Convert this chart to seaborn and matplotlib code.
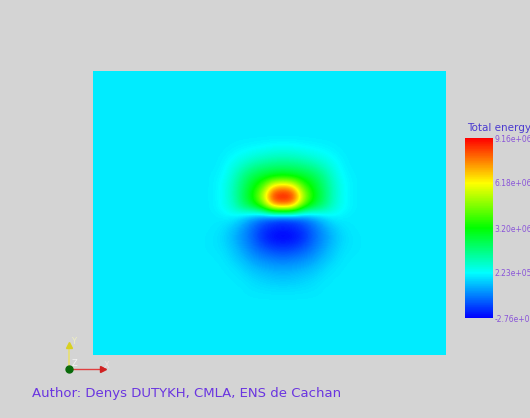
import numpy as np
import matplotlib
matplotlib.use("Agg")
import matplotlib.pyplot as plt
import matplotlib.colors as mcolors
import seaborn as sns

# ---------------- data (values in units of 1e6) ----------------
colorbar_title = "Total energy"
tick_values = [-2.76, 0.223, 3.20, 6.18, 9.16]
vmin, vmax = -2.76, 9.16
author = "Author: Denys DUTYKH, CMLA, ENS de Cachan"

# energy field sampled on a 17x17 patch around the source (rows top -> bottom)
row_137 = [0, 0, 0, 0, 0, 0, 0, 0, 0, 0, 0, 0, 0, 0, 0, 0, 0]
row_147 = [0, 0, 0, 0.05, 0.1, 0.15, 0.2, 0.28, 0.3, 0.28, 0.2, 0.15, 0.1, 0.05, 0, 0, 0]
row_157 = [0, 0, 0.05, 0.2, 0.4, 0.6, 0.8, 0.95, 1.0, 0.95, 0.8, 0.6, 0.4, 0.2, 0.05, 0, 0]
row_167 = [0, 0, 0.1, 0.5, 1.0, 1.5, 1.8, 1.95, 2.0, 1.95, 1.8, 1.5, 1.0, 0.5, 0.1, 0, 0]
row_177 = [0, 0.05, 0.2, 0.8, 1.7, 2.4, 2.8, 3.1, 3.3, 3.1, 2.8, 2.4, 1.7, 0.8, 0.2, 0.05, 0]
row_187 = [0, 0.05, 0.3, 1.0, 2.0, 3.0, 4.2, 6.9, 7.5, 6.9, 4.2, 3.0, 2.0, 1.0, 0.3, 0.05, 0]
row_197 = [0, 0.05, 0.3, 1.0, 2.2, 3.3, 5.6, 9.0, 9.16, 9.0, 5.6, 3.3, 2.2, 1.0, 0.3, 0.05, 0]
row_207 = [0, 0.05, 0.3, 0.8, 1.8, 2.5, 3.7, 6.6, 7.1, 6.6, 3.7, 2.5, 1.8, 0.8, 0.3, 0.05, 0]
row_217 = [0, 0, 0.05, 0.1, -0.3, -0.8, -1.3, -1.6, -1.8, -1.6, -1.3, -0.8, -0.3, 0.1, 0.05, 0, 0]
row_227 = [0, 0, -0.1, -0.4, -0.9, -1.5, -2.0, -2.3, -2.4, -2.3, -2.0, -1.5, -0.9, -0.4, -0.1, 0, 0]
row_237 = [0, -0.05, -0.2, -0.6, -1.1, -1.6, -2.3, -2.65, -2.76, -2.65, -2.3, -1.6, -1.1, -0.6, -0.2, -0.05, 0]
row_247 = [0, -0.05, -0.15, -0.45, -0.9, -1.4, -1.8, -2.1, -2.2, -2.1, -1.8, -1.4, -0.9, -0.45, -0.15, -0.05, 0]
row_257 = [0, 0, -0.05, -0.3, -0.6, -1.0, -1.25, -1.4, -1.5, -1.4, -1.25, -1.0, -0.6, -0.3, -0.05, 0, 0]
row_267 = [0, 0, 0, -0.1, -0.3, -0.55, -0.75, -0.85, -0.9, -0.85, -0.75, -0.55, -0.3, -0.1, 0, 0, 0]
row_277 = [0, 0, 0, 0, -0.1, -0.25, -0.35, -0.45, -0.5, -0.45, -0.35, -0.25, -0.1, 0, 0, 0, 0]
row_287 = [0, 0, 0, 0, 0, -0.1, -0.15, -0.2, -0.2, -0.2, -0.15, -0.1, 0, 0, 0, 0, 0]
row_297 = [0, 0, 0, 0, 0, 0, 0, 0, 0, 0, 0, 0, 0, 0, 0, 0, 0]
background_value = 0.0

field = np.array([row_137, row_147, row_157, row_167, row_177, row_187, row_197,
                  row_207, row_217, row_227, row_237, row_247, row_257, row_267,
                  row_277, row_287, row_297], dtype=float)

# ---------------- style ----------------
sns.set_theme(style="white")
plt.rcParams["font.family"] = ["DejaVu Sans"]
bg = "#d4d4d4"

# VTK-like rainbow lookup table (blue -> red)
hues = np.linspace(2.0 / 3.0, 0.0, 256)
hsv = np.stack([hues, np.ones_like(hues), np.ones_like(hues)], axis=1)
cmap = mcolors.ListedColormap(mcolors.hsv_to_rgb(hsv), name="vtk_rainbow")
norm = mcolors.Normalize(vmin=vmin, vmax=vmax)

W, H = 530, 418
fig = plt.figure(figsize=(W / 100, H / 100), dpi=100, facecolor=bg)

# main field axes (pixel box 93..446 x 71..355)
ax = fig.add_axes([93 / W, 1 - 355 / H, 353 / W, 284 / H])
ax.set_facecolor(cmap(norm(background_value)))
ax.set_xlim(0, 353)
ax.set_ylim(284, 0)
ax.imshow(field, cmap=cmap, norm=norm, interpolation="bicubic",
          interpolation_stage="data", extent=(105, 275, 231, 61),
          origin="upper", aspect="auto")
ax.set_xticks([])
ax.set_yticks([])
for s in ax.spines.values():
    s.set_visible(False)

# colorbar (pixel box 465..493 x 138..318)
cax = fig.add_axes([465 / W, 1 - 318 / H, 28 / W, 180 / H])
sm = matplotlib.cm.ScalarMappable(norm=norm, cmap=cmap)
cb = fig.colorbar(sm, cax=cax, ticks=tick_values)
cb.outline.set_visible(False)
cb.ax.set_yticklabels([f"{v * 1e6:.2e}" for v in tick_values])
cb.ax.tick_params(length=0, pad=1, labelsize=5.5, labelcolor="#8a55d8")
fig.text(467 / W, 1 - 128 / H, colorbar_title, fontsize=7.5, color="#4b3ad0",
         ha="left", va="center")

# author caption
fig.text(32 / W, 1 - 394 / H, author, fontsize=9.5, color="#6a35e0",
         ha="left", va="center")

# orientation triad (decoration)
ov = fig.add_axes([0, 0, 1, 1], facecolor="none")
ov.set_xlim(0, W)
ov.set_ylim(H, 0)
ov.axis("off")
ov.plot([69, 69], [369, 347], color="#e8e070", lw=1.2)
ov.plot([69], [345], marker="^", color="#d8d020", ms=5)
ov.plot([69, 101], [369, 369], color="#e04040", lw=1.0)
ov.plot([103], [369], marker=">", color="#d02020", ms=5)
ov.plot([69], [369], marker="o", color="#0a6a0a", ms=5)
ov.text(74, 342, "Y", fontsize=6, color="#f0f0c0", ha="center", va="center")
ov.text(107, 366, "X", fontsize=6, color="#f0e0e0", ha="center", va="center")
ov.text(75, 364, "Z", fontsize=6, color="#f4f4f4", ha="center", va="center")

fig.savefig("out.png", dpi=100, facecolor=bg)
